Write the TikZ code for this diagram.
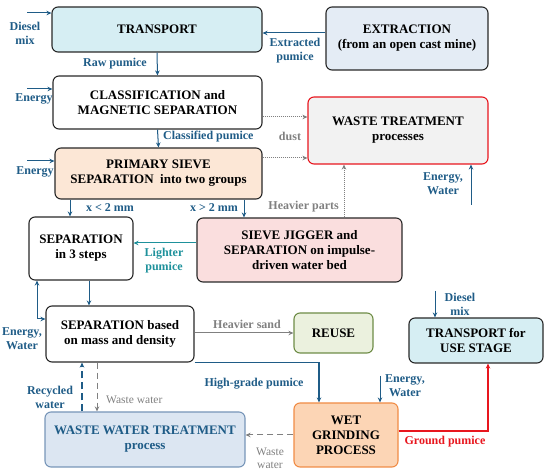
\documentclass[tikz,border=0pt]{standalone}
\usepackage{fontspec}
\setmainfont{Liberation Serif}
\usetikzlibrary{arrows.meta}
\definecolor{lblue}{RGB}{31,92,135}
\definecolor{lteal}{RGB}{30,145,155}
\definecolor{lred}{RGB}{232,22,30}
\definecolor{lgray}{RGB}{128,128,128}
\definecolor{bord}{RGB}{40,40,40}
\definecolor{fcyan}{RGB}{214,238,243}
\definecolor{fext}{RGB}{228,236,245}
\definecolor{fwaste}{RGB}{242,242,242}
\definecolor{fpeach}{RGB}{252,231,214}
\definecolor{fpink}{RGB}{250,222,222}
\definecolor{fgreen}{RGB}{235,241,222}
\definecolor{bgreen}{RGB}{110,140,70}
\definecolor{fwwt}{RGB}{220,230,242}
\definecolor{bwwt}{RGB}{120,150,185}
\definecolor{fwet}{RGB}{252,213,181}
\definecolor{bwet}{RGB}{240,140,70}
\tikzset{
  box/.style={draw=bord, line width=1.1pt, rounded corners=6pt, align=center,
    font=\fontsize{13}{15}\selectfont\bfseries, inner sep=2pt},
  lbl/.style={font=\fontsize{12}{14}\selectfont\bfseries, text=lblue, align=center, inner sep=1pt},
  glbl/.style={font=\fontsize{12}{14}\selectfont\bfseries, text=lgray, align=center, inner sep=1pt},
  tip/.style={-{Stealth[length=5pt,width=4.5pt]}},
  barr/.style={tip, draw=lblue, line width=1pt},
  garr/.style={tip, draw=lgray, line width=1pt, densely dotted},
}
\begin{document}
\begin{tikzpicture}[x=1pt,y=-1pt]
\useasboundingbox (0,0) rectangle (550,476);
% boxes
\node[box, fill=fcyan, minimum width=210pt, minimum height=45pt] (transport) at (157,29.5) {TRANSPORT};
\node[box, fill=fext, minimum width=162pt, minimum height=63pt] (extraction) at (407,38.5) {EXTRACTION\\(from an open cast mine)};
\node[box, fill=white, minimum width=209pt, minimum height=53pt] (classif) at (157.5,102.5) {CLASSIFICATION and\\MAGNETIC SEPARATION};
\node[box, draw=lred, fill=fwaste, minimum width=180pt, minimum height=67pt] (waste) at (398,130.5) {WASTE TREATMENT\\processes};
\node[box, fill=fpeach, minimum width=207pt, minimum height=51pt] (primary) at (158.5,173.5) {PRIMARY SIEVE\\SEPARATION\ \ into two groups};
\node[box, fill=white, minimum width=104pt, minimum height=63pt] (sep3) at (81,248.5) {SEPARATION\\in 3 steps};
\node[box, fill=fpink, minimum width=205pt, minimum height=64pt] (jigger) at (299.5,250) {SIEVE JIGGER and\\SEPARATION on impulse-\\driven water bed};
\node[box, fill=white, minimum width=148pt, minimum height=56pt] (sepmass) at (120,334) {SEPARATION based\\on mass and density};
\node[box, draw=bgreen, fill=fgreen, minimum width=79pt, minimum height=40pt] (reuse) at (333.5,333) {REUSE};
\node[box, fill=fcyan, minimum width=134pt, minimum height=45pt] (transuse) at (476,340.5) {TRANSPORT for\\USE STAGE};
\node[box, draw=bwwt, fill=fwwt, text=lblue, minimum width=200pt, minimum height=55pt] (wwt) at (145,439.5) {WASTE WATER TREATMENT\\process};
\node[box, draw=bwet, fill=fwet, minimum width=104pt, minimum height=64pt] (wet) at (346,435) {WET\\GRINDING\\PROCESS};
% x positions of vertical connectors
\coordinate (xa) at (70,0);
\coordinate (xb) at (244,0);
\coordinate (xc) at (344,0);
\coordinate (xe) at (89,0);
\coordinate (xf) at (37,0);
\coordinate (xg) at (319,0);
\coordinate (xj) at (488,0);
\coordinate (xk) at (97,0);
\coordinate (xl) at (82,0);
% inputs on the left
\coordinate (dm) at (27,13);
\draw[barr] (dm) -- (dm -| transport.west);
\node[lbl] (ldm) at (25,33) {Diesel\\mix};
\coordinate (en1) at (27,89);
\draw[barr] (en1) -- (en1 -| classif.west);
\node[lbl] (len1) at (34,99) {Energy};
\coordinate (en2) at (27,161);
\draw[barr] (en2) -- (en2 -| primary.west);
\node[lbl] (len2) at (35,172) {Energy};
% extraction -> transport
\draw[barr] ([yshift=5.5pt]extraction.west) coordinate (e1) -- (e1 -| transport.east);
\node[lbl] (lext) at (295,51) {Extracted\\pumice};
% transport -> classif
\draw[barr] (transport.south) -- (classif.north);
\node[lbl, anchor=east] (lraw) at (148,64) {Raw pumice};
% classif -> primary
\draw[barr] (classif.south) -- (primary.north);
\node[lbl, anchor=west] (lcl) at (162,137) {Classified pumice};
% dust
\draw[garr] ([yshift=-14.5pt]classif.east) coordinate (d1) -- (d1 -| waste.west);
\draw[garr] ([yshift=15.5pt]primary.east) coordinate (d2) -- (d2 -| waste.west);
\node[glbl] (ldust) at (290,136) {dust};
% primary -> sep3 / jigger
\draw[barr] (xa |- primary.south) -- (xa |- sep3.north);
\node[lbl] (lx1) at (110,208) {x < 2 mm};
\draw[barr] (xb |- primary.south) -- (xb |- jigger.north);
\node[lbl] (lx2) at (214,208) {x > 2 mm};
% jigger -> waste
\draw[garr] (xc |- jigger.north) -- (xc |- waste.south);
\node[glbl, anchor=east] (lheavy) at (340,207) {Heavier parts};
% energy water -> waste
\coordinate (ew1) at (471,205);
\draw[barr] (ew1) -- (ew1 |- waste.south);
\node[lbl] (lew1) at (443,184) {Energy,\\Water};
% jigger -> sep3
\draw[tip, draw=lteal, line width=1pt] ([yshift=7pt]jigger.west) coordinate (j1) -- (j1 -| sep3.east);
\node[lbl, text=lteal] (llight) at (164,261) {Lighter\\pumice};
% sep3 -> sepmass
\draw[barr] (xe |- sep3.south) -- (xe |- sepmass.north);
% energy water left
\draw[barr, {Stealth[length=5pt,width=4.5pt]}-{Stealth[length=5pt,width=4.5pt]}] (xf |- sep3.south) |- ([yshift=15pt]sepmass.west);
\node[lbl] (lew2) at (22,339) {Energy,\\Water};
% sepmass -> reuse
\draw[tip, draw=lgray, line width=1pt] ([yshift=1pt]sepmass.east) coordinate (s1) -- (s1 -| reuse.west);
\node[glbl] (lsand) at (247,324) {Heavier sand};
% sepmass -> wet
\draw[barr, line width=1.4pt] (sepmass.south east) -| (xg |- wet.north);
\node[lbl] (lhg) at (254,384) {High-grade pumice};
% energy water -> wet
\coordinate (ew3) at (380,376);
\draw[barr] (ew3) -- (ew3 |- wet.north);
\node[lbl] (lew3) at (405,386) {Energy,\\Water};
% diesel -> transuse
\coordinate (dm2) at (435,291);
\draw[barr] (dm2) -- (dm2 |- transuse.north);
\node[lbl] (ldm2) at (460,304) {Diesel\\mix};
% wet -> transuse
\draw[tip, draw=lred, line width=1.4pt] ([yshift=4pt]wet.east) -| (xj |- transuse.south);
\node[lbl, text=lred] (lgp) at (445,442) {Ground pumice};
% wet -> wwt
\draw[tip, draw=lgray, line width=1pt, dash pattern=on 6pt off 4pt] (wet.west |- 0,435) coordinate (w1) -- (w1 -| wwt.east);
\node[glbl, font=\fontsize{11.5}{13}\selectfont] (lww1) at (270,458) {Waste\\water};
% sepmass -> wwt
\draw[tip, draw=lgray, line width=1pt, dash pattern=on 6pt off 4pt] (xk |- sepmass.south) -- (xk |- wwt.north);
\node[glbl, font=\fontsize{11.5}{13}\selectfont, anchor=west] (lww2) at (105,400) {Waste water};
% wwt -> sepmass (recycled)
\draw[barr, line width=1.5pt, dash pattern=on 7pt off 4pt] (xl |- wwt.north) -- (xl |- sepmass.south);
\node[lbl] (lrec) at (50,397) {Recycled\\water};
\end{tikzpicture}
\end{document}
